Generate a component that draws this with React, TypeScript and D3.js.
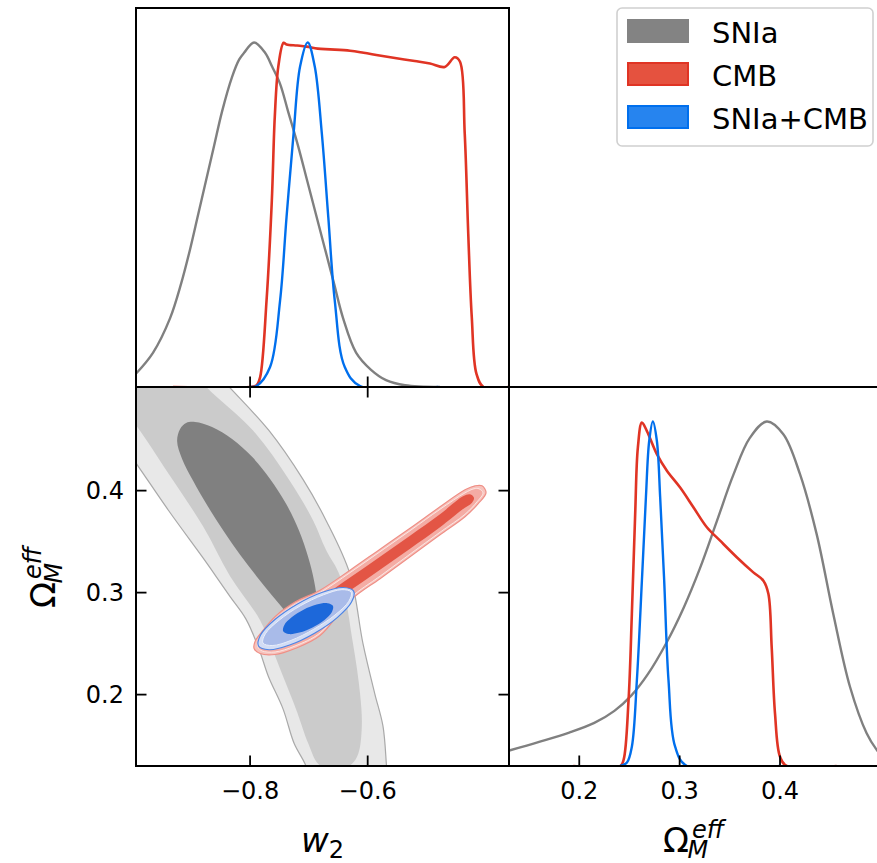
import React from "react";
import * as d3 from "d3";

type P = [number, number];

// ---------- axes ----------
const W2_DOMAIN: P = [-0.994, -0.3597];
const OM_DOMAIN: P = [0.13, 0.5016];
const DENS_DOMAIN: P = [0, 1.1];
const W2_TICKS = [-0.8, -0.6];
const W2_TICK_LABELS = ["\u22120.8", "\u22120.6"];
const OM_TICKS = [0.2, 0.3, 0.4];
const OM_TICK_LABELS = ["0.2", "0.3", "0.4"];
const SERIES = ["SNIa", "CMB", "SNIa+CMB"];

// ---------- 1D marginals: w2 ----------
const snW2: P[] = [
  [-0.9938, 0.039], [-0.9649, 0.1], [-0.936, 0.2], [-0.9173, 0.3], [-0.902, 0.4],
  [-0.8884, 0.5], [-0.8748, 0.6], [-0.8612, 0.7], [-0.8476, 0.8], [-0.8306, 0.9],
  [-0.8187, 0.95], [-0.8102, 0.97], [-0.7932, 1.0], [-0.7745, 0.97], [-0.7626, 0.93],
  [-0.749, 0.88], [-0.7354, 0.8], [-0.7184, 0.7], [-0.7031, 0.6], [-0.6878, 0.5],
  [-0.6725, 0.4], [-0.6572, 0.3], [-0.6419, 0.2], [-0.6198, 0.1], [-0.5943, 0.05],
  [-0.5688, 0.02], [-0.5365, 0.005], [-0.477, 0.0],
];
const cmbW2: P[] = [
  [-0.931, 0], [-0.8, 0], [-0.789, 0.005], [-0.783, 0.028], [-0.772, 0.251],
  [-0.763, 0.542], [-0.758, 0.784], [-0.752, 0.93], [-0.743, 0.999], [-0.738, 0.994],
  [-0.72, 0.991], [-0.704, 0.988], [-0.685, 0.982], [-0.664, 0.98], [-0.63, 0.976],
  [-0.607, 0.97], [-0.58, 0.962], [-0.551, 0.954], [-0.52, 0.946], [-0.494, 0.939],
  [-0.469, 0.929], [-0.452, 0.957], [-0.443, 0.944], [-0.435, 0.736], [-0.429, 0.445],
  [-0.423, 0.203], [-0.415, 0.038], [-0.403, 0], [-0.361, 0],
];
const jointW2: P[] = [
  [-0.8, 0], [-0.789, 0.003], [-0.766, 0.058], [-0.749, 0.251], [-0.738, 0.493],
  [-0.726, 0.736], [-0.715, 0.93], [-0.702, 1.0], [-0.69, 0.93], [-0.678, 0.736],
  [-0.667, 0.493], [-0.656, 0.251], [-0.639, 0.058], [-0.613, 0.003], [-0.48, 0],
];

// ---------- 1D marginals: Omega_M ----------
const snOm: P[] = [
  [0.1303, 0.045], [0.16, 0.07], [0.19, 0.097], [0.215, 0.125], [0.235, 0.16],
  [0.252, 0.205], [0.268, 0.265], [0.2873, 0.36], [0.3038, 0.458], [0.3204, 0.575],
  [0.337, 0.71], [0.3535, 0.845], [0.3701, 0.953], [0.3868, 1.0], [0.4033, 0.963],
  [0.4199, 0.847], [0.4365, 0.673], [0.453, 0.442], [0.4697, 0.23], [0.4863, 0.095],
  [0.4965, 0.046], [0.5015, 0.03],
];
const cmbOm: P[] = [
  [0.194, 0], [0.2408, 0], [0.2441, 0.017], [0.2491, 0.191], [0.2524, 0.442],
  [0.2557, 0.731], [0.2584, 0.925], [0.2624, 0.997], [0.2674, 0.972], [0.2773, 0.905],
  [0.2873, 0.857], [0.3005, 0.808], [0.3137, 0.751], [0.3271, 0.693], [0.3403, 0.654],
  [0.3569, 0.606], [0.3734, 0.562], [0.3834, 0.538], [0.3884, 0.5], [0.3917, 0.345],
  [0.395, 0.153], [0.4, 0.027], [0.4067, 0], [0.4564, 0],
];
const jointOm: P[] = [
  [0.2408, 0], [0.2475, 0.01], [0.2524, 0.056], [0.2574, 0.249], [0.2624, 0.538],
  [0.2664, 0.78], [0.2697, 0.944], [0.2733, 1.0], [0.2773, 0.944], [0.2806, 0.78],
  [0.2846, 0.538], [0.2889, 0.249], [0.2955, 0.056], [0.3072, 0], [0.4, 0],
];

// ---------- 2D contours (w2, Omega_M) ----------
const snOuter: P[] = [
  [-1.055, 0.527], [-1.038, 0.463], [-0.994, 0.427], [-0.938, 0.38], [-0.88, 0.334],
  [-0.858, 0.316], [-0.834, 0.296], [-0.807, 0.274], [-0.785, 0.245], [-0.769, 0.218],
  [-0.744, 0.186], [-0.725, 0.152], [-0.705, 0.13], [-0.695, 0.106], [-0.565, 0.106],
  [-0.568, 0.13], [-0.574, 0.169], [-0.588, 0.201], [-0.608, 0.25], [-0.63, 0.318],
  [-0.671, 0.371], [-0.71, 0.411], [-0.768, 0.459], [-0.836, 0.502], [-0.876, 0.527],
];
const snMid: P[] = [
  [-1.055, 0.527], [-1.029, 0.488], [-0.994, 0.464], [-0.938, 0.416], [-0.88, 0.365],
  [-0.834, 0.316], [-0.783, 0.273], [-0.761, 0.243], [-0.744, 0.218], [-0.722, 0.186],
  [-0.701, 0.152], [-0.684, 0.132], [-0.656, 0.124], [-0.627, 0.132], [-0.616, 0.142],
  [-0.61, 0.169], [-0.613, 0.201], [-0.625, 0.25], [-0.647, 0.316], [-0.671, 0.342],
  [-0.693, 0.371], [-0.734, 0.411], [-0.795, 0.459], [-0.875, 0.502], [-0.91, 0.527],
];
const snInner: P[] = [
  [-0.8935, 0.4673], [-0.8646, 0.4624], [-0.8306, 0.4507], [-0.7966, 0.4331], [-0.766, 0.4115],
  [-0.7388, 0.3871], [-0.7167, 0.3607], [-0.7014, 0.3352], [-0.6912, 0.3117], [-0.6861, 0.2902],
  [-0.6878, 0.2726], [-0.6946, 0.2589], [-0.7014, 0.255], [-0.715, 0.2628], [-0.7371, 0.2795],
  [-0.7626, 0.2971], [-0.7898, 0.3166], [-0.817, 0.3372], [-0.8442, 0.3597], [-0.8714, 0.3841],
  [-0.8969, 0.4096], [-0.9156, 0.4311], [-0.9241, 0.4487], [-0.919, 0.4605], [-0.9088, 0.4663],
];
const cmbOuter: P[] = [
  [-0.3988, 0.3978], [-0.4056, 0.4047], [-0.4175, 0.4047], [-0.4345, 0.4008], [-0.477, 0.3841],
  [-0.528, 0.3631], [-0.579, 0.3426], [-0.63, 0.322], [-0.681, 0.3024], [-0.7235, 0.2907],
  [-0.7575, 0.2765], [-0.7796, 0.2618], [-0.7915, 0.2521], [-0.7932, 0.2452], [-0.783, 0.2403],
  [-0.7575, 0.2393], [-0.7235, 0.2452], [-0.681, 0.2579], [-0.63, 0.2922], [-0.579, 0.3137],
  [-0.528, 0.3352], [-0.477, 0.3568], [-0.4345, 0.3744], [-0.4124, 0.3871],
];
const cmbMid: P[] = [
  [-0.4039, 0.3978], [-0.4107, 0.4018], [-0.4192, 0.4018], [-0.4345, 0.3978], [-0.477, 0.3817],
  [-0.528, 0.3607], [-0.579, 0.3401], [-0.63, 0.3196], [-0.681, 0.3], [-0.7235, 0.2883],
  [-0.7558, 0.2746], [-0.7762, 0.2609], [-0.7864, 0.2511], [-0.7864, 0.2462], [-0.7796, 0.2428],
  [-0.7575, 0.2418], [-0.7235, 0.2477], [-0.681, 0.2604], [-0.63, 0.2946], [-0.579, 0.3161],
  [-0.528, 0.3377], [-0.477, 0.3592], [-0.4345, 0.3768], [-0.4141, 0.389],
];
const cmbInner: P[] = [
  [-0.4192, 0.393], [-0.426, 0.3964], [-0.4379, 0.3944], [-0.477, 0.3768], [-0.528, 0.3558],
  [-0.579, 0.3352], [-0.63, 0.3147], [-0.681, 0.2941], [-0.715, 0.2814], [-0.732, 0.2746],
  [-0.7354, 0.2687], [-0.7252, 0.2658], [-0.7065, 0.2687], [-0.681, 0.2814], [-0.63, 0.302],
  [-0.579, 0.3225], [-0.528, 0.3431], [-0.477, 0.3641], [-0.4396, 0.3812], [-0.4226, 0.3881],
];
const jointOuter: P[] = [
  [-0.6239, 0.3015], [-0.6275, 0.2907], [-0.6518, 0.2755], [-0.6904, 0.2602], [-0.7327, 0.2486],
  [-0.7677, 0.244], [-0.7857, 0.2477], [-0.7822, 0.2584], [-0.7578, 0.2736], [-0.7193, 0.2889],
  [-0.6769, 0.3004], [-0.6419, 0.305],
];
const jointMid: P[] = [
  [-0.628, 0.3005], [-0.6322, 0.2914], [-0.6555, 0.2781], [-0.6916, 0.2641], [-0.7306, 0.2531],
  [-0.7624, 0.2481], [-0.7782, 0.2506], [-0.774, 0.2596], [-0.7507, 0.2729], [-0.7146, 0.287],
  [-0.6754, 0.2978], [-0.6438, 0.3029],
];
const jointInner: P[] = [
  [-0.6591, 0.287], [-0.6608, 0.2809], [-0.6735, 0.2732], [-0.6938, 0.2659], [-0.716, 0.2609],
  [-0.7342, 0.2594], [-0.7437, 0.2621], [-0.7419, 0.2681], [-0.7293, 0.2758], [-0.7091, 0.2833],
  [-0.6868, 0.2883], [-0.6684, 0.2896],
];

const GREY = "#808080";
const RED = "#E03424";
const BLUE = "#006FED";
const FONT = "DejaVu Sans, sans-serif";

function OmegaLabel({ x, y, rotate }: { x: number; y: number; rotate?: number }) {
  return (
    <text
      transform={`translate(${x},${y}) rotate(${rotate || 0})`}
      fontFamily={FONT}
      fill="#000"
      fontSize={34}
    >
      <tspan x={-30} y={0}>Ω</tspan>
      <tspan x={-5.5} y={6.5} fontSize={24} fontStyle="italic">M</tspan>
      <tspan x={-1} y={-14} fontSize={24} fontStyle="italic">eff</tspan>
    </text>
  );
}

export default function App() {
  const L = 136, T = 8, PW = 373, PH = 379;
  const x0 = L, x1 = L + PW, x2 = L + 2 * PW;
  const y0 = T, y1 = T + PH, y2 = T + 2 * PH;

  const xW = d3.scaleLinear().domain(W2_DOMAIN).range([x0, x1]);
  const xO = d3.scaleLinear().domain(OM_DOMAIN).range([x1, x2]);
  const yO = d3.scaleLinear().domain(OM_DOMAIN).range([y2, y1]);
  const yTop = d3.scaleLinear().domain(DENS_DOMAIN).range([y1, y0]);
  const yBR = d3.scaleLinear().domain(DENS_DOMAIN).range([y2, y1]);

  const lineTop = d3.line<P>().x((d) => xW(d[0])).y((d) => yTop(d[1])).curve(d3.curveCatmullRom.alpha(0.5));
  const lineBR = d3.line<P>().x((d) => xO(d[0])).y((d) => yBR(d[1])).curve(d3.curveCatmullRom.alpha(0.5));
  const shape = d3
    .line<P>()
    .x((d) => xW(d[0]))
    .y((d) => yO(d[1]))
    .curve(d3.curveCatmullRomClosed.alpha(0.5));

  const tickLen = 10.5;
  const tickW = 1.8;

  const legendColors = [
    { fill: "#838383", stroke: "#838383" },
    { fill: "#e5523f", stroke: RED },
    { fill: "#2684ef", stroke: BLUE },
  ];

  return (
    <svg
      width={877}
      height={863}
      style={{ position: "absolute", left: 0, top: 0, background: "#fff" }}
      fontFamily={FONT}
    >
      <defs>
        <clipPath id="cTL"><rect x={x0} y={y0} width={PW} height={PH} /></clipPath>
        <clipPath id="cBL"><rect x={x0} y={y1} width={PW} height={PH} /></clipPath>
        <clipPath id="cBR"><rect x={x1} y={y1} width={PW} height={PH} /></clipPath>
      </defs>
      <rect x={0} y={0} width={877} height={863} fill="#fff" />

      {/* top-left: w2 marginal */}
      <g clipPath="url(#cTL)" fill="none" strokeWidth={2.4} strokeLinejoin="round">
        <path d={lineTop(snW2) || ""} stroke={GREY} />
        <path d={lineTop(cmbW2) || ""} stroke={RED} strokeWidth={2.6} />
        <path d={lineTop(jointW2) || ""} stroke={BLUE} />
      </g>

      {/* bottom-left: 2D */}
      <g clipPath="url(#cBL)">
        <path d={shape(snOuter) || ""} fill="#e8e8e8" stroke="#a9a9a9" strokeWidth={1.2} />
        <path d={shape(snMid) || ""} fill="#cbcbcb" />
        <path d={shape(snInner) || ""} fill={GREY} />
        <path d={shape(cmbOuter) || ""} fill="#f7c3bd" stroke="#ef8f86" strokeWidth={1.2} />
        <path d={shape(cmbMid) || ""} fill="#f4aca4" stroke="#fce6e3" strokeWidth={1} />
        <path d={shape(cmbInner) || ""} fill="#e35545" />
        <path d={shape(jointOuter) || ""} fill="#d3ddf5" stroke="#4d85e6" strokeWidth={1.2} />
        <path d={shape(jointMid) || ""} fill="#a9bbe9" stroke="#e8eefb" strokeWidth={1} />
        <path d={shape(jointInner) || ""} fill="#1d68da" />
      </g>

      {/* bottom-right: Omega marginal */}
      <g clipPath="url(#cBR)" fill="none" strokeWidth={2.4} strokeLinejoin="round">
        <path d={lineBR(snOm) || ""} stroke={GREY} />
        <path d={lineBR(cmbOm) || ""} stroke={RED} strokeWidth={2.6} />
        <path d={lineBR(jointOm) || ""} stroke={BLUE} />
      </g>

      {/* ticks */}
      <g stroke="#000" strokeWidth={tickW}>
        {W2_TICKS.map((t) => (
          <g key={"tw" + t}>
            <line x1={xW(t)} x2={xW(t)} y1={y1} y2={y1 - tickLen} />
            <line x1={xW(t)} x2={xW(t)} y1={y1} y2={y1 + tickLen} />
            <line x1={xW(t)} x2={xW(t)} y1={y2} y2={y2 - tickLen} />
          </g>
        ))}
        {OM_TICKS.map((t) => (
          <g key={"to" + t}>
            <line x1={x0} x2={x0 + tickLen} y1={yO(t)} y2={yO(t)} />
            <line x1={x1} x2={x1 - tickLen} y1={yO(t)} y2={yO(t)} />
            <line x1={xO(t)} x2={xO(t)} y1={y2} y2={y2 - tickLen} />
          </g>
        ))}
      </g>

      {/* frames */}
      <g fill="none" stroke="#000" strokeWidth={2}>
        <rect x={x0} y={y0} width={PW} height={PH} />
        <rect x={x0} y={y1} width={PW} height={PH} />
        <rect x={x1} y={y1} width={PW} height={PH} />
      </g>

      {/* tick labels */}
      <g fontSize={24} fill="#000">
        {W2_TICKS.map((t, i) => (
          <text key={"lw" + t} x={xW(t)} y={799} textAnchor="middle">{W2_TICK_LABELS[i]}</text>
        ))}
        {OM_TICKS.map((t, i) => (
          <text key={"lox" + t} x={xO(t)} y={799} textAnchor="middle">{OM_TICK_LABELS[i]}</text>
        ))}
        {OM_TICKS.map((t, i) => (
          <text key={"loy" + t} x={124} y={yO(t) + 8.6} textAnchor="end">{OM_TICK_LABELS[i]}</text>
        ))}
      </g>

      {/* axis labels */}
      <text x={(x0 + x1) / 2} y={852} textAnchor="middle" fill="#000">
        <tspan fontSize={34} fontStyle="italic">w</tspan>
        <tspan fontSize={24} dy={6}>2</tspan>
      </text>
      <OmegaLabel x={693} y={851.5} />
      <OmegaLabel x={55} y={578} rotate={-90} />

      {/* legend */}
      <g>
        <rect x={617} y={8} width={256} height={138} rx={5} fill="#fff" stroke="#d0d0d0" strokeWidth={1.6} />
        {SERIES.map((s, i) => (
          <g key={s}>
            <rect
              x={628}
              y={20 + i * 43}
              width={60}
              height={22}
              fill={legendColors[i].fill}
              stroke={legendColors[i].stroke}
              strokeWidth={2}
            />
            <text x={712} y={43 + i * 43} fontSize={29} fill="#000">{s}</text>
          </g>
        ))}
      </g>
    </svg>
  );
}
